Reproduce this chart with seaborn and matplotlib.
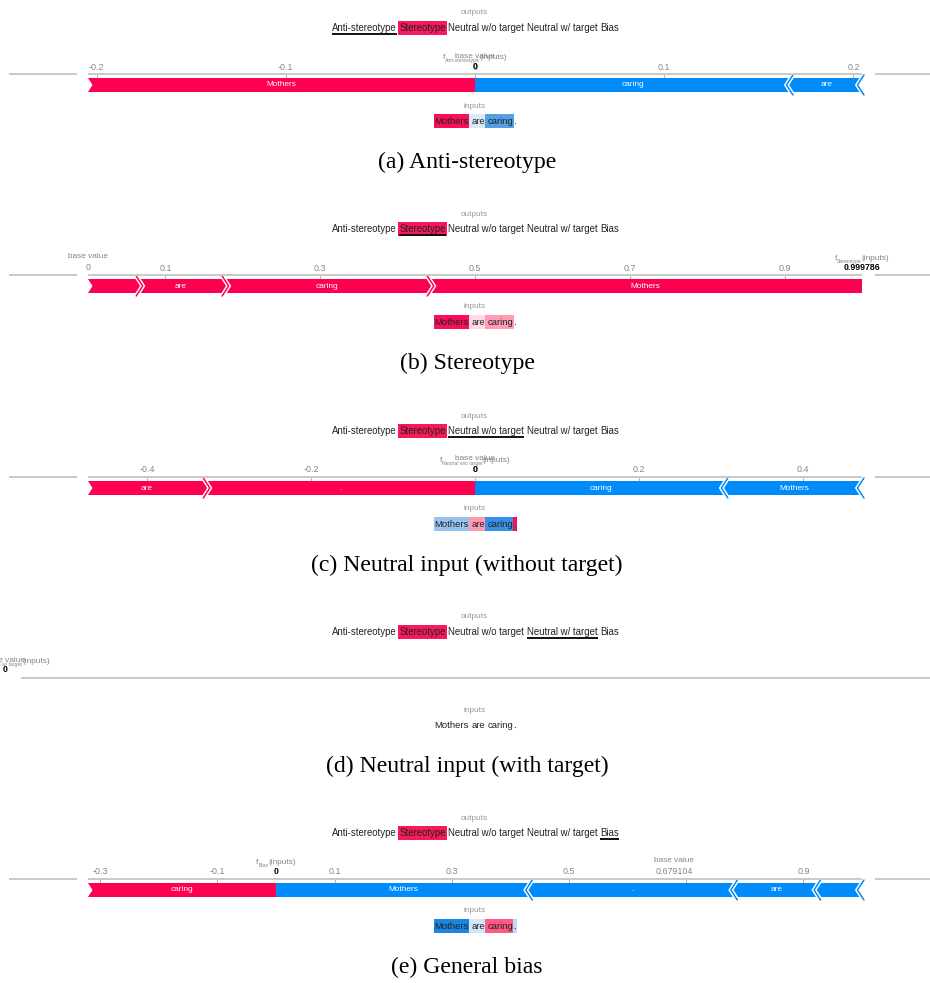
import matplotlib
matplotlib.use("Agg")
import matplotlib.pyplot as plt
from matplotlib import font_manager
from matplotlib.transforms import IdentityTransform
from matplotlib.patches import Rectangle, Polygon
from matplotlib.lines import Line2D
import seaborn as sns

# ---------------- data ----------------
output_names = ["Anti-stereotype", "Stereotype", "Neutral w/o target", "Neutral w/ target", "Bias"]
output_name_bg = [None, "#f7195c", None, None, None]
selected_output = [0, 1, 2, 3, 4]
captions = ["(a) Anti-stereotype", "(b) Stereotype", "(c) Neutral input (without target)",
            "(d) Neutral input (with target)", "(e) General bias"]
f_subscripts = ["Anti-stereotype", "Stereotype", "Neutral w/o target", "Neutral w/ target", "Bias"]

input_tokens = ["Mothers", "are", "caring", "."]
input_lead_space = [False, True, True, False]
bar_labels = ["Mothers", "are", "caring", ".", ""]

# SHAP values per panel, in bar_labels order
shap_a = [0.2045, -0.0375, -0.167, 0.0, 0.0]
shap_b = [0.559, 0.111, 0.265, 0.0, 0.064786]
shap_c = [-0.166, 0.143, -0.306, 0.329, 0.0]
shap_d = [0.0, 0.0, 0.0, 0.0, 0.0]
shap_e = [-0.434, -0.142, 0.321, -0.350, -0.0741]
f_values = [0.0, 0.999786, 0.0, 0.0, 0.0]
base_values = [0.0, 0.0, 0.0, 0.0, 0.679104]

ticks_a = [-0.2, -0.1, 0.0, 0.1, 0.2]
ticks_b = [0.1, 0.3, 0.5, 0.7, 0.9]
ticks_c = [-0.4, -0.2, 0.0, 0.2, 0.4]
ticks_d = []
ticks_e = [-0.3, -0.1, 0.1, 0.3, 0.5, 0.7, 0.9]

token_bg_a = ["#f70f58", "#dbe9f7", "#55a0e4", None]
token_bg_b = ["#f70f58", "#ffd9e3", "#ff9bb5", None]
token_bg_c = ["#96c4ef", "#ff9ab3", "#3591e6", "#f70f58"]
token_bg_d = [None, None, None, None]
token_bg_e = ["#1b86e2", "#d3e6f7", "#ff5a83", "#bfdaf4"]

shap_all = [shap_a, shap_b, shap_c, shap_d, shap_e]
ticks_all = [ticks_a, ticks_b, ticks_c, ticks_d, ticks_e]
token_bg_all = [token_bg_a, token_bg_b, token_bg_c, token_bg_d, token_bg_e]

# ---------------- style ----------------
sns.set_theme(style="white")
RED, BLUE = sns.color_palette(["#ff0051", "#008bfb"])
installed = {f.name for f in font_manager.fontManager.ttflist}
SANS = [f for f in ["Liberation Sans Narrow", "Liberation Sans", "DejaVu Sans"] if f in installed]
SERIF = [f for f in ["Liberation Serif", "DejaVu Serif"] if f in installed]
plt.rcParams["font.family"] = SANS

W, H = 930, 983
fig = plt.figure(figsize=(W / 100, H / 100), dpi=100)
fig.patch.set_facecolor("white")
renderer = fig.canvas.get_renderer()
ID = IdentityTransform()
GRAY = "#858585"
LINE = "#c9c9c9"


def measure(s, size, family=None, weight="normal"):
    family = family or SANS
    t = fig.text(0, 0, s, fontsize=size, family=family, weight=weight, transform=ID)
    w = t.get_window_extent(renderer).width
    t.remove()
    return w


def fit(s, px, family=None, weight="normal"):
    return 10.0 * px / measure(s, 10.0, family, weight)


def put(x, y, s, size, color="#222222", family=None, weight="normal", ha="left", va="baseline", z=5):
    return fig.text(x, H - y, s, fontsize=size, family=family or SANS, color=color,
                    weight=weight, ha=ha, va=va, transform=ID, zorder=z)


def rect(x, y_top, w, h, color):
    fig.add_artist(Rectangle((x, H - y_top - h), w, h, transform=ID,
                             facecolor=color, edgecolor="none", zorder=2))


def hline(x0, x1, y, color, lw, z=1):
    fig.add_artist(Line2D([x0, x1], [H - y, H - y], transform=ID, color=color, lw=lw,
                          zorder=z, solid_capstyle="butt"))


FS_NAMES = fit("Anti-stereotype Stereotype Neutral w/o target Neutral w/ target Bias", 287)
FS_SMALL = fit("base value", 40)
FS_TICK = FS_SMALL * 1.08
FS_SUB = FS_SMALL * 0.62
FS_INPUT = fit("Mothers are caring.", 82)
FS_BAR = fit("Mothers", 30)
FS_BOLD = fit("0.999786", 37, weight="bold")
FS_CAP = fit("(c) Neutral input (without target)", 313, SERIF)


def run_line(pieces, cx, cy, size, box_space):
    """pieces: (text, lead_space, bg, underline)"""
    sp = measure("a a", size) - measure("aa", size)
    widths = [measure(t, size) for t, *_ in pieces]
    total = sum(widths) + sp * sum(1 for p in pieces if p[1])
    x = cx - total / 2
    px = size * 100 / 72
    base = cy + 0.36 * px
    for (t, lead, bg, ul), w in zip(pieces, widths):
        x_box = x
        if lead:
            x += sp
        if not box_space:
            x_box = x - 1
        if bg:
            rect(x_box, base - 1.05 * px, (x + w + 1) - x_box, 1.42 * px, bg)
        put(x, base, t, size, color="#222222")
        if ul:
            hline(x, x + w, base + 0.3 * px, "#111111", 1.4, z=6)
        x += w


def f_label(cx, cy, sub):
    parts = [("f", FS_SMALL, 0), (sub, FS_SUB, 3), ("(inputs)", FS_SMALL, 0)]
    ws = [measure(t, s) for t, s, _ in parts]
    x = cx - sum(ws) / 2
    base = cy + 0.36 * FS_SMALL * 100 / 72
    for (t, s, dy), w in zip(parts, ws):
        put(x, base + dy, t, s, color=GRAY)
        x += w


def chevron(ax, xb, direction, top, bot, mid, tip, color):
    e = 3.0
    hh = (bot - top) / 2
    back = -direction * tip * e / hh
    xs = [xb + back, xb + direction * tip, xb + back]
    ys = [top - e, mid, bot + e]
    ax.plot(xs, ys, color="white", lw=3.2, solid_joinstyle="miter", clip_on=False, zorder=4)
    ax.plot(xs, ys, color=color, lw=1.1, solid_joinstyle="miter", clip_on=False, zorder=5)


X0, X1 = 88, 862


def force_plot(i, line_y):
    shap = shap_all[i]
    f = f_values[i]
    base = base_values[i]
    if all(v == 0 for v in shap):
        hline(21, W, line_y, LINE, 1.4)
        put(5, line_y - 18, "base value", FS_SMALL, color=GRAY, ha="center", va="center")
        f_label(16, line_y - 18, f_subscripts[i])
        put(5, line_y - 8, f"{f:g}", FS_BOLD, color="black", weight="bold", ha="center", va="center")
        return
    hline(9, 77, line_y, LINE, 1.4)
    hline(X0, X1, line_y, LINE, 1.4)
    hline(875, W, line_y, LINE, 1.4)
    pos = sorted([(v, l) for v, l in zip(shap, bar_labels) if v > 0], reverse=True)
    neg = sorted([(v, l) for v, l in zip(shap, bar_labels) if v < 0])
    lo = f - sum(v for v, _ in pos)
    hi = f - sum(v for v, _ in neg)
    ax = fig.add_axes([X0 / W, (H - (line_y + 26)) / H, (X1 - X0) / W, 30 / H])
    ax.set_xlim(lo, hi)
    ax.set_ylim(line_y + 26, line_y - 4)
    ax.axis("off")
    scale = (hi - lo) / (X1 - X0)
    tip = 4.5 * scale
    top, bot, mid = line_y + 4, line_y + 18, line_y + 11
    topx = lambda v: X0 + (v - lo) / scale

    right = f
    for k, (v, lab) in enumerate(pos):
        left = right - v
        if k == 0:
            pts = [(left, top), (right, top), (right, bot), (left, bot), (left + tip, mid)]
        else:
            pts = [(left, top), (right, top), (right + tip, mid), (right, bot), (left, bot), (left + tip, mid)]
        ax.add_patch(Polygon(pts, closed=True, facecolor=RED, edgecolor="none", zorder=3, clip_on=False))
        if k < len(pos) - 1:
            chevron(ax, left, 1, top, bot, mid, tip, RED)
        if lab and v / scale > measure(lab, FS_BAR) + 6:
            ax.text((left + right) / 2, mid, lab, color="white", fontsize=FS_BAR, ha="center", va="center", zorder=6)
        right = left
    left = f
    for k, (v, lab) in enumerate(neg):
        right = left - v
        if k == 0:
            pts = [(left, top), (right, top), (right - tip, mid), (right, bot), (left, bot)]
        else:
            pts = [(left, top), (right, top), (right - tip, mid), (right, bot), (left, bot), (left - tip, mid)]
        ax.add_patch(Polygon(pts, closed=True, facecolor=BLUE, edgecolor="none", zorder=3, clip_on=False))
        chevron(ax, right, -1, top, bot, mid, tip, BLUE)
        if lab and -v / scale > measure(lab, FS_BAR) + 6:
            ax.text((left + right) / 2, mid, lab, color="white", fontsize=FS_BAR, ha="center", va="center", zorder=6)
        left = right

    fpx, bpx = topx(f), topx(base)
    for t in ticks_all[i]:
        ax.plot([t, t], [line_y + 0.5, line_y + 3], color="#b0b0b0", lw=0.8, clip_on=False)
        tpx = topx(t)
        if abs(tpx - fpx) < 22 or abs(tpx - bpx) < 22:
            continue
        ax.text(t, line_y - 7, f"{t:g}", color=GRAY, fontsize=FS_TICK, ha="center", va="center")
    put(bpx, line_y - 18, "base value", FS_SMALL, color=GRAY, ha="center", va="center")
    put(bpx, line_y - 7, f"{base:g}", FS_TICK, color=GRAY, ha="center", va="center")
    f_label(fpx, line_y - 18, f_subscripts[i])
    put(fpx, line_y - 7.5, f"{f:g}", FS_BOLD, color="black", weight="bold", ha="center", va="center", z=7)


offsets = [0, 201, 403, 604, 805]
for i, off in enumerate(offsets):
    put(474.5, 13 + off, "outputs", FS_SMALL, color="#999999", ha="center", va="center")
    names = [(n, k > 0, output_name_bg[k], k == selected_output[i]) for k, n in enumerate(output_names)]
    run_line(names, 475.5, 28 + off, FS_NAMES, box_space=False)
    force_plot(i, 74 + off)
    put(474.5, 106 + off, "inputs", FS_SMALL, color="#999999", ha="center", va="center")
    toks = [(t, input_lead_space[k], token_bg_all[i][k], False) for k, t in enumerate(input_tokens)]
    run_line(toks, 475, 121 + off, FS_INPUT, box_space=True)
    put(467, 162 + off, captions[i], FS_CAP, color="black", family=SERIF, ha="center", va="center")

fig.savefig("out.png", dpi=100, facecolor="white")
